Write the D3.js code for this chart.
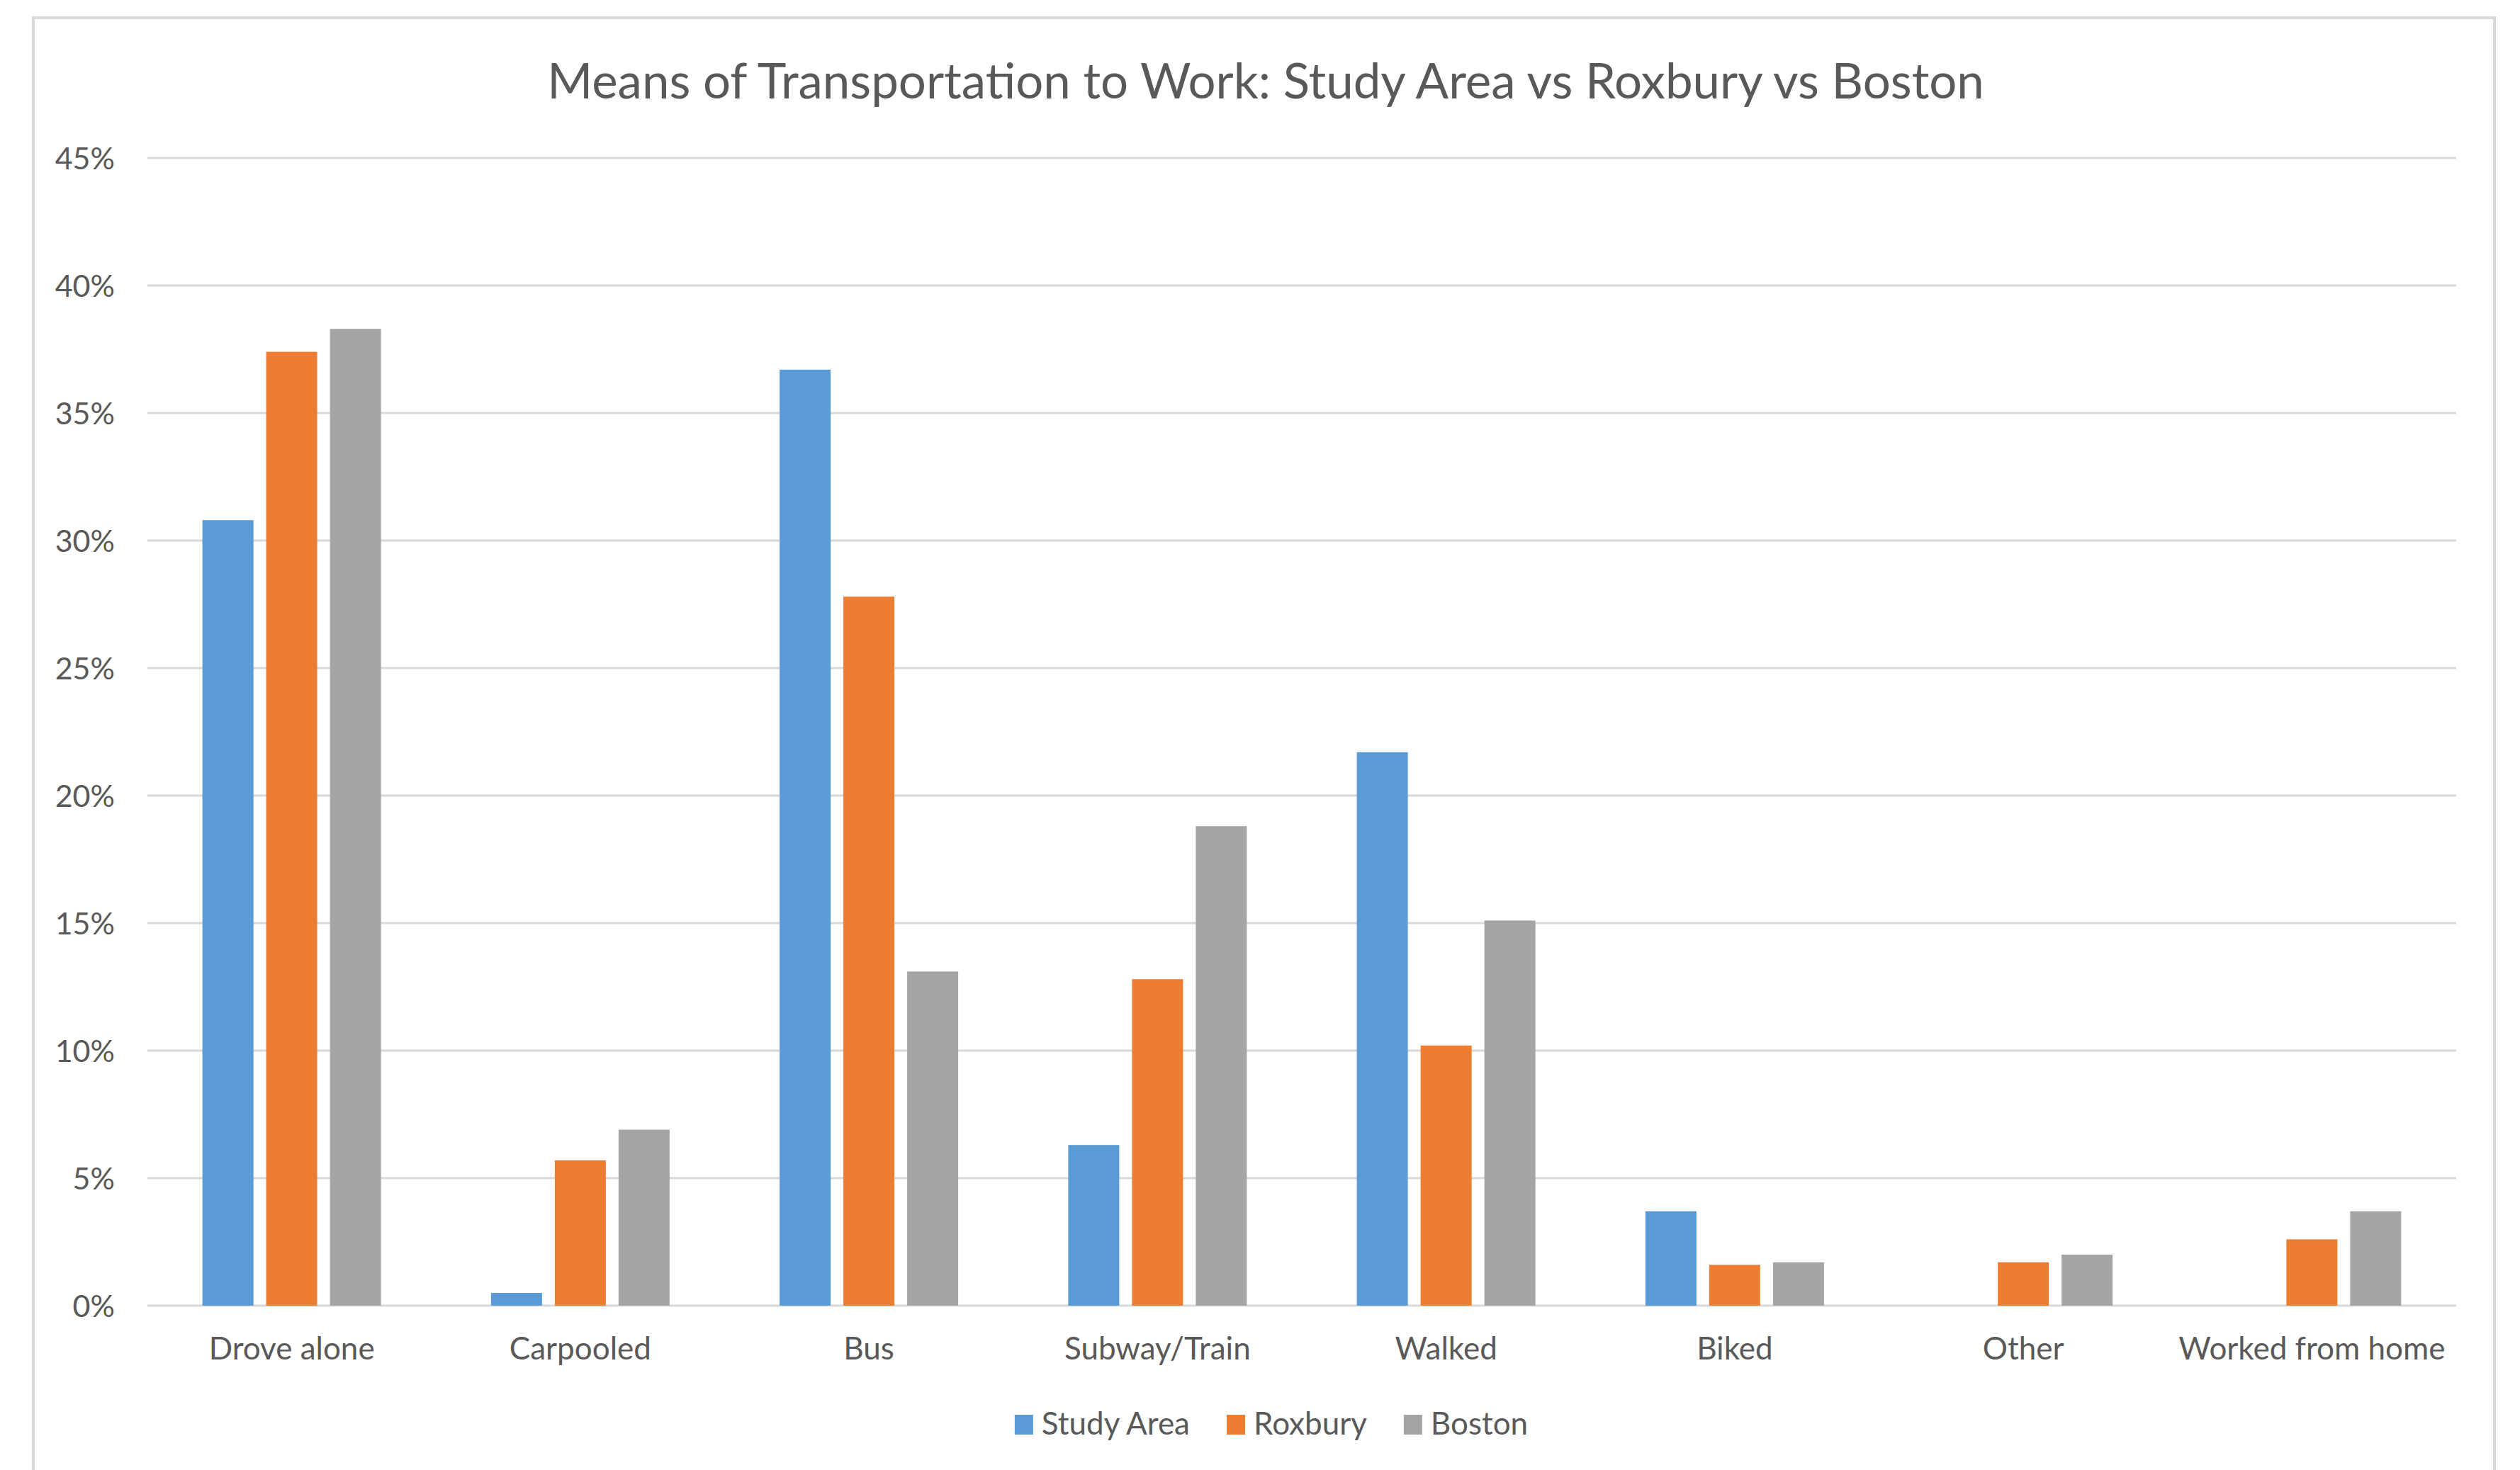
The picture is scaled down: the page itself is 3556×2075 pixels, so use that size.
<!DOCTYPE html>
<html>
<head>
<meta charset="utf-8">
<script src="https://cdn.jsdelivr.net/npm/d3@7"></script>
<style>
  html, body { margin: 0; padding: 0; background: #ffffff; }
  svg { display: block; }
  text { font-family: Lato, "Open Sans", sans-serif; fill: #595959; }
</style>
</head>
<body>
<svg id="chart" width="3556" height="2075"></svg>
<script>
// Means of transportation to work, share of workers (%)
const categories = ["Drove alone", "Carpooled", "Bus", "Subway/Train", "Walked", "Biked", "Other", "Worked from home"];
const seriesNames = ["Study Area", "Roxbury", "Boston"];
const studyArea = [30.8, 0.5, 36.7, 6.3, 21.7, 3.7, 0, 0];
const roxbury   = [37.4, 5.7, 27.8, 12.8, 10.2, 1.6, 1.7, 2.6];
const boston    = [38.3, 6.9, 13.1, 18.8, 15.1, 1.7, 2.0, 3.7];
const yTicks = [0, 5, 10, 15, 20, 25, 30, 35, 40, 45];
const colors = ["#5B9BD5", "#ED7D31", "#A5A5A5"];
const title = "Means of Transportation to Work: Study Area vs Roxbury vs Boston";

const seriesValues = [studyArea, roxbury, boston];
const W = 3556, H = 2075;
const svg = d3.select("#chart");

svg.append("rect").attr("width", W).attr("height", H).attr("fill", "#ffffff");

// chart frame
svg.append("rect")
  .attr("x", 47).attr("y", 25)
  .attr("width", 3473).attr("height", 2120)
  .attr("fill", "none")
  .attr("stroke", "#d9d9d9")
  .attr("stroke-width", 4);

const plot = { left: 208, right: 3466, top: 223, bottom: 1843 };

const x0 = d3.scaleBand().domain(categories).range([plot.left, plot.right]);
const groupW = 252;
const x1 = d3.scaleBand().domain(seriesNames).range([0, groupW]).paddingInner(0.2);
const y = d3.scaleLinear().domain([0, 45]).range([plot.bottom, plot.top]);

// gridlines
svg.append("g")
  .selectAll("line")
  .data(yTicks)
  .join("line")
  .attr("x1", plot.left).attr("x2", plot.right)
  .attr("y1", d => y(d)).attr("y2", d => y(d))
  .attr("stroke", "#d9d9d9")
  .attr("stroke-width", 3);

// y axis labels
const yAxis = d3.axisLeft(y).tickValues(yTicks).tickFormat(d => d + "%").tickSize(0).tickPadding(0);
const yg = svg.append("g").attr("transform", `translate(162,0)`).call(yAxis);
yg.select(".domain").remove();
yg.selectAll("text")
  .attr("font-size", 43)
  .attr("font-family", "Lato, 'Open Sans', sans-serif")
  .attr("fill", "#595959")
  .attr("dy", "0.36em");

// bars
const groups = svg.append("g")
  .selectAll("g")
  .data(categories)
  .join("g")
  .attr("transform", d => `translate(${x0(d) + (x0.bandwidth() - groupW) / 2},0)`);

groups.selectAll("rect")
  .data((c, i) => seriesNames.map((s, k) => ({ s, k, v: seriesValues[k][i] })))
  .join("rect")
  .attr("x", d => x1(d.s))
  .attr("width", x1.bandwidth())
  .attr("y", d => y(d.v))
  .attr("height", d => y(0) - y(d.v))
  .attr("fill", d => colors[d.k]);

// category labels
const xAxis = d3.axisBottom(x0).tickSize(0).tickPadding(0);
const xg = svg.append("g").attr("transform", `translate(0,1919)`).call(xAxis);
xg.select(".domain").remove();
xg.selectAll("text")
  .attr("font-size", 44)
  .attr("font-family", "Lato, 'Open Sans', sans-serif")
  .attr("fill", "#595959")
  .attr("dy", 0)
  .attr("y", 0);

// title
svg.append("text")
  .attr("x", 1786).attr("y", 139)
  .attr("text-anchor", "middle")
  .attr("font-size", 69)
  .text(title);

// legend
const legend = svg.append("g");
const sw = 26, sh = 28, textGap = 12, itemGap = 52;
let cursor = 0;
seriesNames.forEach((name, k) => {
  const g = legend.append("g");
  g.append("rect").attr("x", 0).attr("y", -28).attr("width", sw).attr("height", sh).attr("fill", colors[k]);
  const t = g.append("text").attr("x", sw + textGap).attr("y", 0).attr("font-size", 44).text(name);
  const w = sw + textGap + t.node().getComputedTextLength();
  g.attr("transform", `translate(${cursor},0)`);
  cursor += w + itemGap;
});
const legendW = cursor - itemGap;
legend.attr("transform", `translate(${1794 - legendW / 2},2025)`);
</script>
</body>
</html>
